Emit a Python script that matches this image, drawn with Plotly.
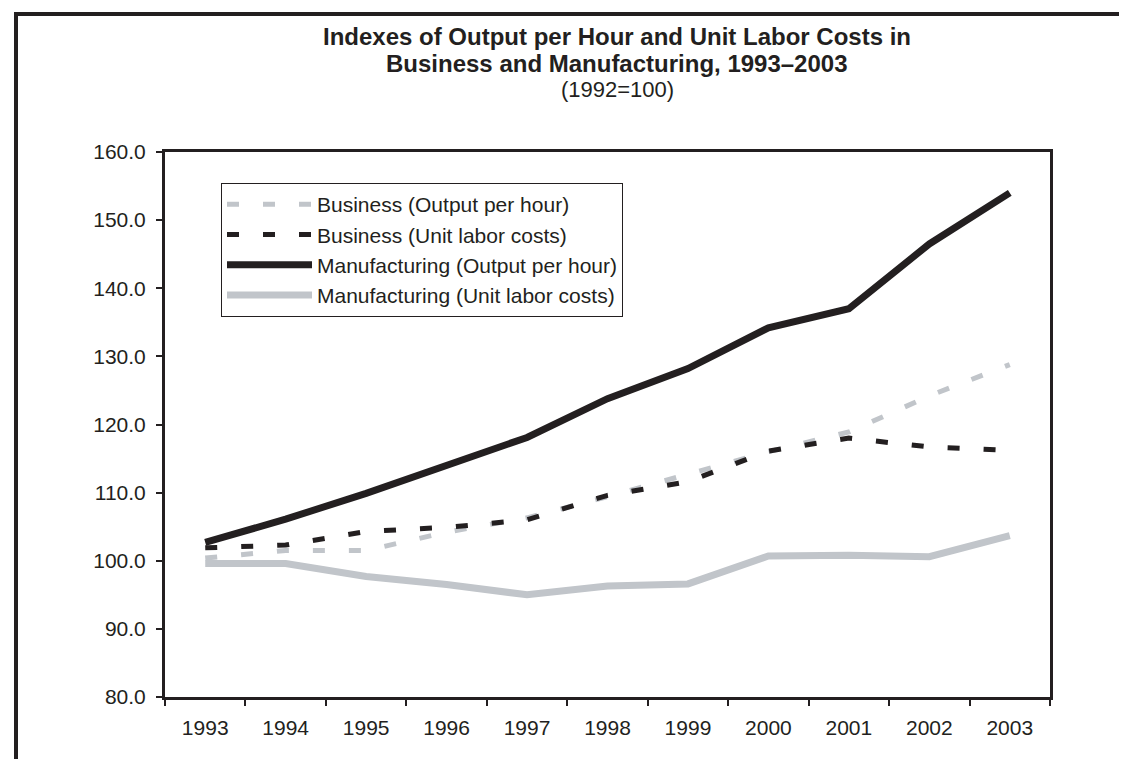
import plotly.graph_objects as go

# Index values, 1992 = 100
years = ["1993", "1994", "1995", "1996", "1997", "1998",
         "1999", "2000", "2001", "2002", "2003"]
business_output = [100.4, 101.5, 101.5, 104.2, 106.3, 109.4, 112.7, 116.0, 118.9, 124.2, 128.8]
business_ulc = [101.9, 102.3, 104.3, 104.9, 106.0, 109.6, 111.6, 116.1, 118.0, 116.7, 116.2]
manuf_output = [102.7, 106.1, 109.9, 114.1, 118.1, 123.8, 128.2, 134.2, 137.0, 146.5, 154.0]
manuf_ulc = [99.6, 99.6, 97.7, 96.5, 95.0, 96.3, 96.6, 100.7, 100.8, 100.6, 103.7]

y_ticks = [80, 90, 100, 110, 120, 130, 140, 150, 160]

DARK = "#231f20"
GRAY = "#c1c5ca"
FONT = "Liberation Sans, Arial, sans-serif"

W, H = 1127, 759
L, R, T, B = 157, 85, 144, 70
pw, ph = W - L - R, H - T - B


def px(x):
    # pixel column -> paper x
    return (x - L) / pw


def py(y):
    # pixel row -> paper y
    return 1 - (y - T) / ph


fig = go.Figure()
fig.add_trace(go.Scatter(x=years, y=business_output, mode="lines",
                         name="Business (Output per hour)",
                         line=dict(color=GRAY, width=5, dash="12px,24px")))
fig.add_trace(go.Scatter(x=years, y=business_ulc, mode="lines",
                         name="Business (Unit labor costs)",
                         line=dict(color=DARK, width=5, dash="12px,24px")))
fig.add_trace(go.Scatter(x=years, y=manuf_output, mode="lines",
                         name="Manufacturing (Output per hour)",
                         line=dict(color=DARK, width=7)))
fig.add_trace(go.Scatter(x=years, y=manuf_ulc, mode="lines",
                         name="Manufacturing (Unit labor costs)",
                         line=dict(color=GRAY, width=7)))

annotations = [
    dict(text="<b>Indexes of Output per Hour and Unit Labor Costs in</b>",
         x=px(609), y=py(28), font=dict(size=24)),
    dict(text="<b>Business and Manufacturing, 1993\u20132003</b>",
         x=px(609), y=py(55), font=dict(size=24)),
    dict(text="(1992=100)", x=px(609), y=py(82), font=dict(size=22)),
]
for a in annotations:
    a.update(xref="paper", yref="paper", showarrow=False,
             xanchor="center", yanchor="middle")
    a["font"].update(family=FONT, color=DARK)

# page frame: heavy top and left rules, faint bottom rule
shapes = [
    dict(type="line", x0=px(6), x1=px(W), y0=py(6), y1=py(6),
         line=dict(color=DARK, width=4)),
    dict(type="line", x0=px(8), x1=px(8), y0=py(4), y1=py(H),
         line=dict(color=DARK, width=4)),
    dict(type="line", x0=px(0), x1=px(W), y0=py(757.5), y1=py(757.5),
         line=dict(color="#d8d8d8", width=2)),
]
for s in shapes:
    s.update(xref="paper", yref="paper", layer="above")

fig.update_layout(
    width=W, height=H,
    margin=dict(l=L, r=R, t=T, b=B),
    paper_bgcolor="white", plot_bgcolor="white",
    font=dict(family=FONT, size=21, color=DARK),
    showlegend=True,
    legend=dict(x=px(213), y=py(175), xanchor="left", yanchor="top",
                bgcolor="white", bordercolor=DARK, borderwidth=1,
                font=dict(size=21), itemwidth=85, tracegroupgap=0),
    annotations=annotations,
    shapes=shapes,
)
fig.update_xaxes(type="category", range=[-0.5, len(years) - 0.5],
                 tickson="boundaries", ticks="outside", ticklen=6,
                 tickwidth=2, tickcolor=DARK, showline=True, linewidth=3,
                 linecolor=DARK, mirror=True, showgrid=False,
                 ticklabelstandoff=10)
fig.update_yaxes(range=[80, 160], tickvals=y_ticks, tickformat=".1f",
                 ticks="outside", ticklen=6, tickwidth=2, tickcolor=DARK,
                 showline=True, linewidth=3, linecolor=DARK, mirror=True,
                 showgrid=False, zeroline=False, ticklabelstandoff=6)

fig.write_html("out.html")
